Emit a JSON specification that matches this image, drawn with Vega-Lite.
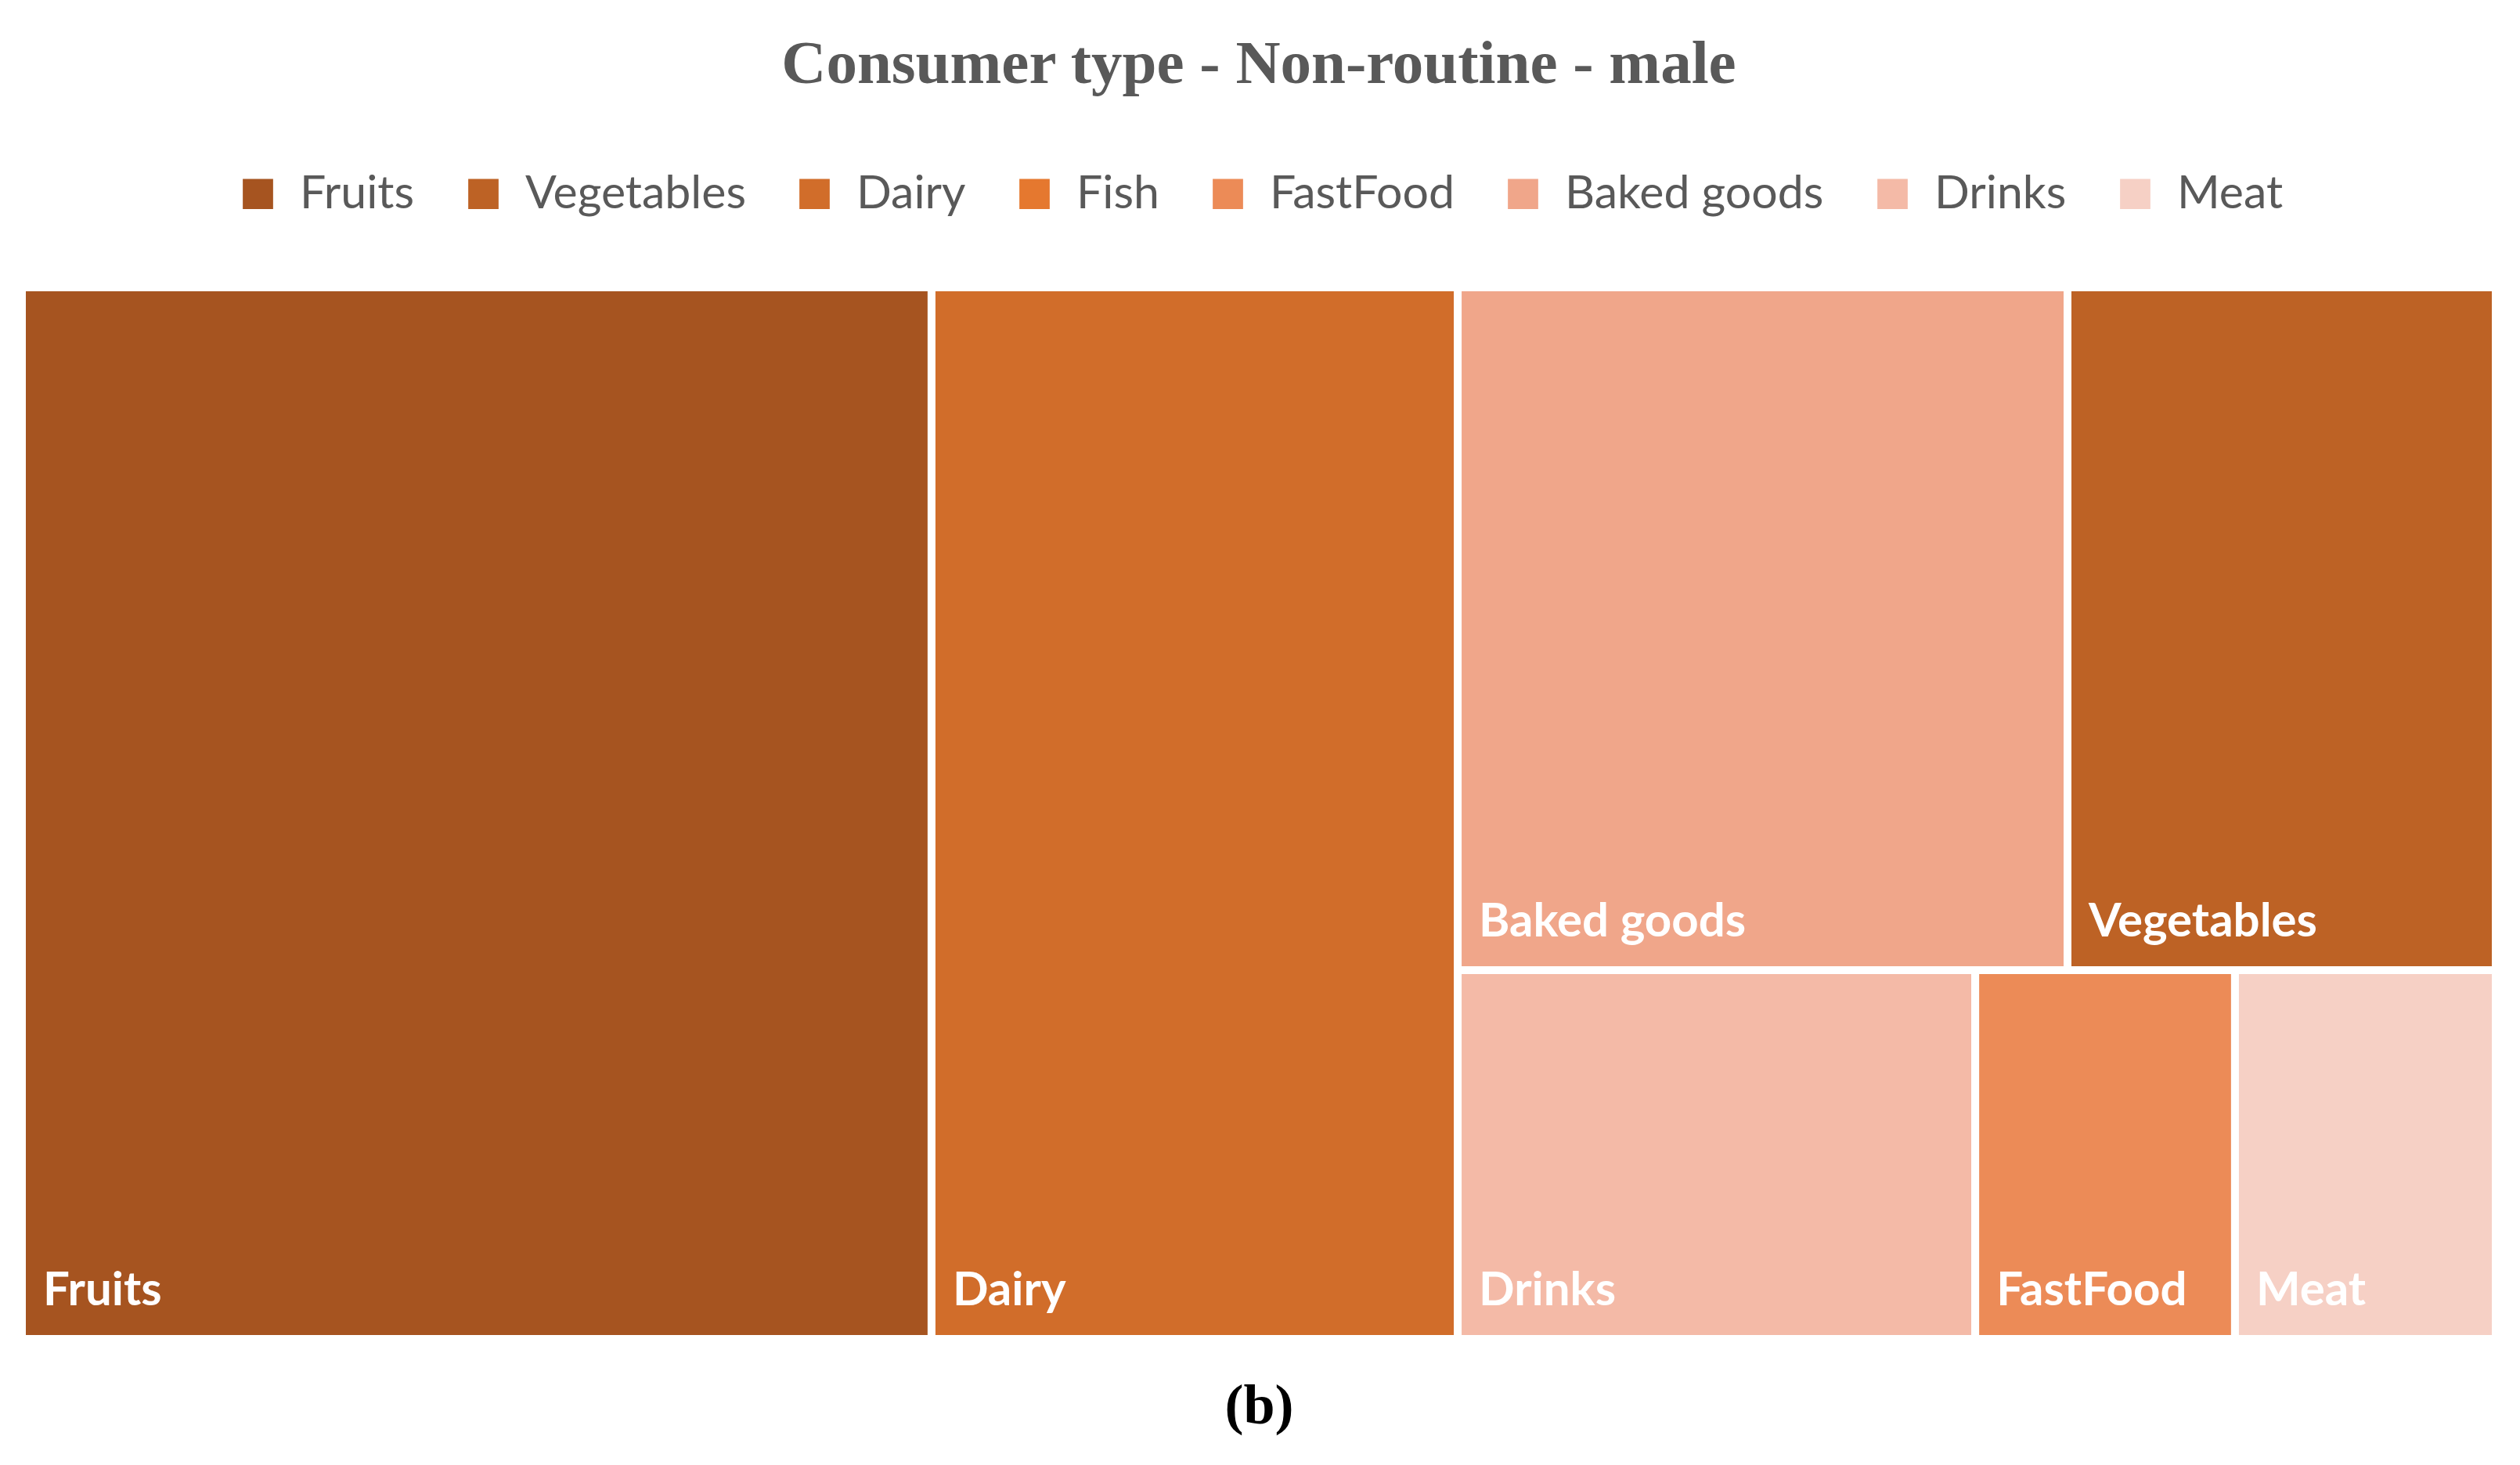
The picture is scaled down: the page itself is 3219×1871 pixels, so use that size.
{
  "$schema": "https://vega.github.io/schema/vega-lite/v6.json",
  "autosize": {"type": "none"},
  "padding": {"left": 28, "top": 367, "right": 31, "bottom": 161},
  "width": 3160,
  "height": 1343,
  "background": "white",
  "title": {
    "text": "Consumer type - Non-routine - male",
    "font": "Liberation Serif",
    "fontSize": 79,
    "fontWeight": "bold",
    "color": "#595959",
    "anchor": "middle",
    "offset": 95
  },
  "data": {
    "values": [
      {"category": "Fruits", "x0": 0, "x1": 0.3677, "y0": 0, "y1": 1},
      {"category": "Dairy", "x0": 0.3677, "x1": 0.5804, "y0": 0, "y1": 1},
      {"category": "Baked goods", "x0": 0.5804, "x1": 0.8269, "y0": 0, "y1": 0.6493},
      {"category": "Vegetables", "x0": 0.8269, "x1": 1, "y0": 0, "y1": 0.6493},
      {"category": "Drinks", "x0": 0.5804, "x1": 0.7896, "y0": 0.6493, "y1": 1},
      {"category": "FastFood", "x0": 0.7896, "x1": 0.8946, "y0": 0.6493, "y1": 1},
      {"category": "Meat", "x0": 0.8946, "x1": 1, "y0": 0.6493, "y1": 1}
    ]
  },
  "encoding": {
    "x": {
      "field": "x0",
      "type": "quantitative",
      "scale": {"domain": [0, 1], "nice": false, "zero": false},
      "axis": {
        "title": "(b)",
        "titleFont": "Liberation Serif",
        "titleFontSize": 72,
        "titleFontWeight": "bold",
        "titleColor": "black",
        "titlePadding": 50,
        "domain": false,
        "ticks": false,
        "labels": false,
        "grid": false
      }
    },
    "y": {
      "field": "y0",
      "type": "quantitative",
      "scale": {"domain": [0, 1], "nice": false, "zero": false, "reverse": true},
      "axis": null
    }
  },
  "layer": [
    {
      "mark": {"type": "rect", "stroke": "white", "strokeWidth": 10, "strokeJoin": "miter", "opacity": 1},
      "encoding": {
        "x2": {"field": "x1"},
        "y2": {"field": "y1"},
        "color": {
          "field": "category",
          "type": "nominal",
          "scale": {
            "domain": ["Fruits", "Vegetables", "Dairy", "Fish", "FastFood", "Baked goods", "Drinks", "Meat"],
            "range": ["#A65420", "#BD6225", "#D16D2A", "#E5782F", "#EC8B57", "#F0A68A", "#F4BAA7", "#F6D0C5"]
          },
          "legend": {
            "orient": "top",
            "direction": "horizontal",
            "title": null,
            "symbolType": "square",
            "symbolSize": 1500,
            "symbolStrokeWidth": 0,
            "labelFont": "Lato",
            "labelFontSize": 59,
            "labelColor": "#595959",
            "labelOffset": 24,
            "columnPadding": 58,
            "offset": 89,
            "padding": 0,
            "labelLimit": 1000
          }
        }
      }
    },
    {
      "mark": {
        "type": "text",
        "align": "left",
        "baseline": "alphabetic",
        "dx": 27,
        "dy": -43,
        "color": "white",
        "font": "Lato",
        "fontSize": 60,
        "fontWeight": "bold"
      },
      "encoding": {
        "y": {"field": "y1", "type": "quantitative"},
        "text": {"field": "category", "type": "nominal"}
      }
    }
  ],
  "config": {
    "view": {"stroke": null},
    "legend": {"layout": {"top": {"anchor": "middle"}}}
  }
}
